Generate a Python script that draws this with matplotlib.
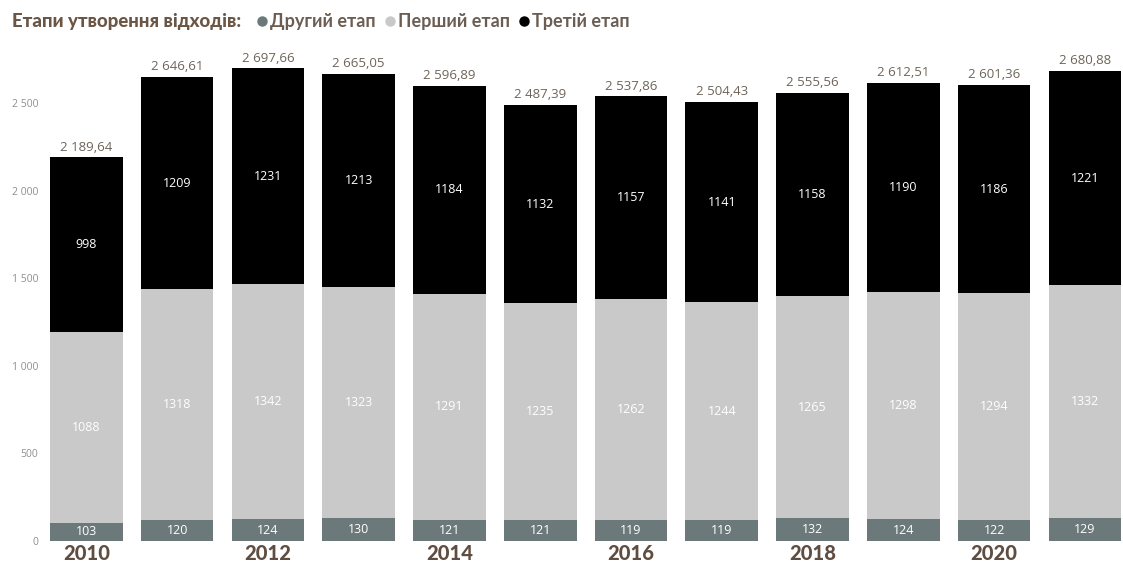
import matplotlib
matplotlib.use("Agg")
import matplotlib.pyplot as plt
from matplotlib.ticker import FuncFormatter

years = [2010, 2011, 2012, 2013, 2014, 2015, 2016, 2017, 2018, 2019, 2020, 2021]
second_stage = [103.3, 120.0, 124.2, 129.8, 121.3, 120.9, 119.0, 119.1, 132.2, 124.2, 121.8, 128.6]
first_stage = [1088.4, 1317.8, 1342.2, 1322.7, 1291.3, 1234.8, 1261.9, 1244.2, 1265.2, 1298.2, 1293.8, 1331.5]
third_stage = [997.94, 1208.81, 1231.26, 1212.55, 1184.29, 1131.69, 1156.96, 1141.13, 1158.16, 1190.11, 1185.76, 1220.78]
y_ticks = [0, 500, 1000, 1500, 2000, 2500]

series_names = ["Другий етап", "Перший етап", "Третій етап"]
series_colors = ["#6b797a", "#c9c9c9", "#000000"]
title_text = "Етапи утворення відходів:"

plt.rcParams["font.family"] = ["Open Sans", "DejaVu Sans"]
heavy = ["Lato", "DejaVu Sans"]

W, H = 1123, 565
fig = plt.figure(figsize=(W / 100, H / 100), dpi=100)

px_per_unit_y = (541 - 103) / 2500.0
ytop = 2850
ax_bottom = (H - 541) / H
ax_height = ytop * px_per_unit_y / H
ax = fig.add_axes([41 / W, ax_bottom, (W - 41) / W, ax_height])

x = list(range(len(years)))
bw = 0.8
bottoms = [0.0] * len(years)
for vals, color in zip([second_stage, first_stage, third_stage], series_colors):
    ax.bar(x, vals, bw, bottom=bottoms, color=color, linewidth=0)
    for xi, v, b in zip(x, vals, bottoms):
        ax.text(xi, b + v / 2, f"{v:.0f}", ha="center", va="center",
                color="white", fontsize=9)
    bottoms = [b + v for b, v in zip(bottoms, vals)]


def fmt_total(v):
    s = f"{v:,.2f}"
    return s.replace(",", " ").replace(".", ",")


for xi, t in zip(x, bottoms):
    ax.text(xi, t + 22, fmt_total(t), ha="center", va="bottom",
            color="#6e6459", fontsize=9.5)

ax.set_xlim(-0.5, 11.42)
ax.set_ylim(0, ytop)
ax.set_yticks(y_ticks)
ax.yaxis.set_major_formatter(FuncFormatter(lambda v, p: f"{int(v):,}".replace(",", " ")))
ax.tick_params(axis="y", length=0, labelsize=7.5, labelcolor="#8f8f8f", pad=2)
ax.set_xticks(x)
ax.set_xticklabels([str(y) if y % 2 == 0 else "" for y in years],
                   fontsize=14.5, fontweight="black", color="#5e4d40", family=heavy)
ax.tick_params(axis="x", length=0, pad=2)
for sp in ax.spines.values():
    sp.set_visible(False)

# Legend row built from text and markers
fig.canvas.draw()
renderer = fig.canvas.get_renderer()
ty = 1 - 21 / H
t = fig.text(12 / W, ty, title_text, fontsize=13.4, fontweight="black",
             color="#6b5645", va="center", ha="left", family=heavy)
bb = t.get_window_extent(renderer)
xdot = bb.x1 + 21
for name, color in zip(series_names, series_colors):
    fig.lines.append(plt.Line2D([xdot / W], [ty], transform=fig.transFigure,
                                marker="o", markersize=6.5, color=color,
                                linestyle="none"))
    lt = fig.text((xdot + 8) / W, ty, name, fontsize=13, fontweight="bold",
                  color="#6b5d52", va="center", ha="left", family=heavy)
    lb = lt.get_window_extent(renderer)
    xdot = lb.x1 + 14

fig.savefig("out.png", dpi=100)
